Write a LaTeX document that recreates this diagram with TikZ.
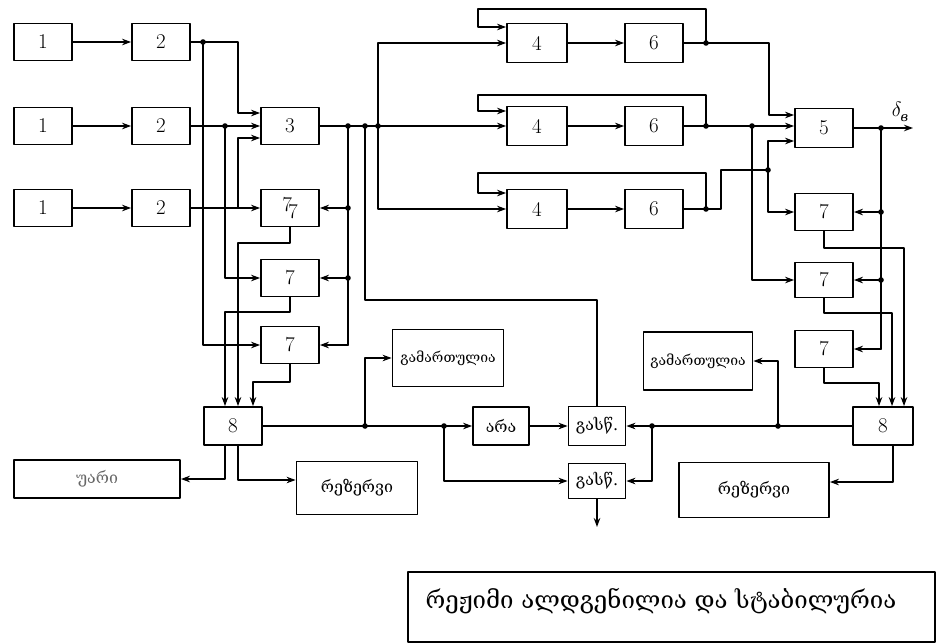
\documentclass[tikz,border=0pt]{standalone}
\usepackage{fontspec}
\newfontfamily\geofont{DejaVu Serif}
\newfontfamily\cyrfont{DejaVu Serif}
\usetikzlibrary{arrows.meta}

\tikzset{
  blk/.style={draw,line width=1.8pt,minimum width=58pt,minimum height=37pt,
    inner sep=0pt,font=\fontsize{21}{21}\selectfont},
  geoblk/.style={blk,font=\geofont\fontsize{16}{16}\selectfont},
  wire/.style={line width=1.8pt},
  arr/.style={wire,-{Stealth[length=9pt,width=6.5pt]}},
}

\begin{document}
\begin{tikzpicture}[x=1pt,y=-1pt,line cap=round,line join=round]
  \useasboundingbox (0,0) rectangle (936,643);

  % sources 1 -> 2
  \foreach \r/\y in {a/42,b/126,c/208}{
    \node[blk] (b1\r) at (43,\y) {1};
    \node[blk] (b2\r) at (161,\y) {2};
    \draw[arr] (b1\r) -- (b2\r);
  }
  \node[blk] (b3) at (290,126) {3};
  \node[blk] (b7a) at (290,208) {7\hspace{-4pt}\raisebox{-7pt}{7}};
  \node[blk] (b7b) at (290,278) {7};
  \node[blk] (b7c) at (290,345) {7};
  \node[blk,minimum height=38pt] (b8l) at (233,426) {8};

  % channels 4 -> 6
  \foreach \r/\y in {a/43,b/126,c/209}{
    \node[blk,minimum width=60pt,minimum height=39pt] (b4\r) at (537,\y) {4};
    \node[blk,minimum height=39pt] (b6\r) at (654,\y) {6};
    \draw[arr] (b4\r) -- (b6\r);
  }
  \node[blk,minimum height=39pt] (b5) at (824,128) {5};
  \node[blk] (b7d) at (824,212) {7};
  \node[blk,minimum height=35pt] (b7e) at (824,280) {7};
  \node[blk] (b7f) at (824,349) {7};
  \node[blk,minimum width=60pt,minimum height=38pt] (b8r) at (883,426) {8};

  % text blocks
  \node[geoblk,minimum width=111pt,minimum height=57pt,
    font=\geofont\fontsize{14}{14}\selectfont] (okl) at (448,358) {გამართულია};
  \node[geoblk,minimum width=109pt,minimum height=58pt,
    font=\geofont\fontsize{14}{14}\selectfont] (okr) at (698,361) {გამართულია};
  \node[geoblk,minimum width=56pt,minimum height=38pt] (ara) at (501,426) {არა};
  \node[geoblk,minimum width=57pt,minimum height=39pt] (gs1) at (597,426) {გასწ.};
  \node[geoblk,minimum width=57pt,minimum height=35pt] (gs2) at (597,481) {გასწ.};
  \node[geoblk,minimum width=121pt,minimum height=53pt] (resl) at (357,488) {რეზერვი};
  \node[geoblk,minimum width=150pt,minimum height=55pt] (resr) at (754,490) {რეზერვი};
  \node[geoblk,minimum width=166pt,minimum height=38pt,text=black!60] (uari) at (97,479) {უარი};

  % 2 -> 3 and the 7 blocks
  \coordinate (ja) at (203,42);
  \coordinate (jb) at (225,126);
  \draw[wire] (b2a.east) -- (ja);
  \draw[arr] (ja) -- (238,42) |- ([yshift=13pt]b3.west);
  \draw[arr] (ja) |- (b7c.west);
  \draw[arr] (b2b.east) -- (b3.west);
  \draw[arr] (jb) |- (b7b.west);
  \draw[arr] (b2c.east) -- (b7a.west);
  \draw[arr] (238,208) |- ([yshift=-12pt]b3.west);

  % output of 3
  \coordinate (jc) at (348,126);
  \coordinate (jd) at (365,126);
  \coordinate (je) at (378,126);
  \draw[arr] (b3.east) -- (b4b.west);
  \draw[wire] (jc) -- (348,345);
  \foreach \n in {b7a,b7b,b7c} \draw[arr] (jc |- \n.east) -- (\n.east);
  \draw[arr] (je) |- (b4a.west);
  \draw[arr] (je) |- (b4c.west);
  \draw[wire] (jd) |- (597,300) -- (gs1.north);

  % 7 -> 8 (left)
  \draw[arr] (b7a.south) |- (238,243) -- ([xshift=5pt]b8l.north);
  \draw[arr] (b7b.south) |- (225,312) -- ([xshift=-8pt]b8l.north);
  \draw[arr] (b7c.south) |- (253,382) -- ([xshift=20pt]b8l.north);

  % outputs of 8 (left)
  \coordinate (jf) at (365,426);
  \coordinate (jg) at (444,426);
  \draw[arr] ([xshift=-8pt]b8l.south) |- (uari.east);
  \draw[arr] ([xshift=5pt]b8l.south) |- ([yshift=8pt]resl.west);
  \draw[arr] (b8l.east) -- (ara.west);
  \draw[arr] (jf) |- (okl.west);
  \draw[arr] (jg) |- (gs2.west);
  \draw[arr] (ara.east) -- (gs1.west);
  \coordinate (gout) at (597,527);
  \draw[arr] (gs2.south) -- (gout);

  % outputs of 8 (right)
  \coordinate (jh) at (778,426);
  \coordinate (ji) at (652,426);
  \draw[arr] (b8r.west) -- (gs1.east);
  \draw[arr] (jh) |- (okr.east);
  \draw[arr] (ji) |- (gs2.east);
  \draw[arr] ([xshift=10pt]b8r.south) |- ([yshift=8pt]resr.east);

  % feedback round 4 and 6
  \coordinate (jk) at (706,43);
  \coordinate (jl) at (706,126);
  \coordinate (jm) at (706,209);
  \draw[arr] (jk) -- (706,9) -| (478,27) -- ([yshift=16pt]b4a.west);
  \draw[arr] (jl) -- (706,95) -| (478,111) -- ([yshift=15pt]b4b.west);
  \draw[arr] (jm) -- (706,173) -| (478,193) -- ([yshift=16pt]b4c.west);

  % 6 -> 5 and right 7 blocks
  \coordinate (jn) at (752,126);
  \coordinate (jo) at (768,170);
  \draw[arr] (b6a.east) -| (769,115) -- ([yshift=13pt]b5.west);
  \draw[arr] (b6b.east) -- (b6b.east -| b5.west);
  \draw[arr] (jn) |- (b7e.west);
  \draw[wire] (b6c.east) -- (721,209) |- (jo);
  \draw[arr] (jo) |- ([yshift=-13pt]b5.west);
  \draw[arr] (jo) |- (b7d.west);

  % output of 5
  \coordinate (jp) at (881,128);
  \coordinate (dout) at (913,128);
  \draw[arr] (b5.east) -- (dout);
  \node[font=\fontsize{20}{20}\selectfont] (dlab) at (900,112)
    {$\delta$\hspace{-1pt}\raisebox{-5pt}{\cyrfont\itshape\fontsize{13}{13}\selectfont в}};
  \draw[wire] (jp) -- (881,349);
  \foreach \n in {b7d,b7e,b7f} \draw[arr] (jp |- \n.east) -- (\n.east);

  % 7 -> 8 (right)
  \draw[arr] (b7d.south) |- (904,248) -- ([xshift=21pt]b8r.north);
  \draw[arr] (b7e.south) |- (892,313) -- ([xshift=9pt]b8r.north);
  \draw[arr] (b7f.south) |- (879,383) -- ([xshift=-4pt]b8r.north);

  % junction dots
  \foreach \p in {ja,jb,jc,jd,je,jf,jg,jh,ji,jk,jl,jm,jn,jo,jp}
    \fill (\p) circle (2.8pt);
  \foreach \n in {b7a,b7b} \fill (jc |- \n.east) circle (2.8pt);
  \foreach \n in {b7d,b7e} \fill (jp |- \n.east) circle (2.8pt);

  % status
  \draw[line width=1.2pt] (408,572) rectangle (935,642);
  \node[anchor=west,font=\geofont\fontsize{24}{24}\selectfont] (msg) at (422,601)
    {რეჟიმი ალდგენილია და სტაბილურია};
\end{tikzpicture}
\end{document}
